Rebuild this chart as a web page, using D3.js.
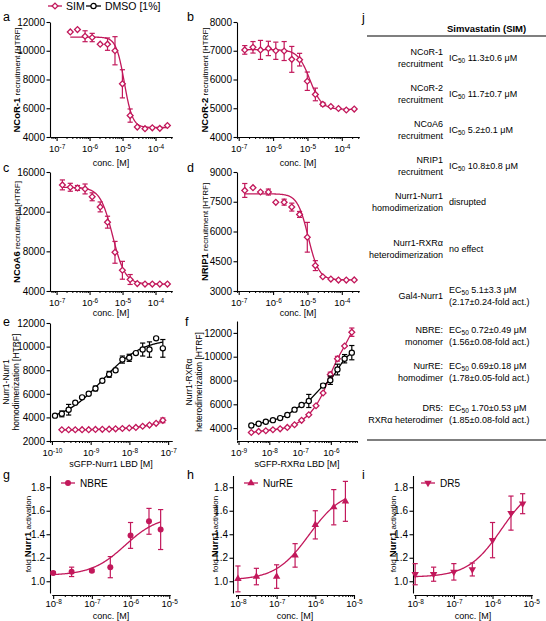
<!DOCTYPE html>
<html><head><meta charset="utf-8">
<script src="https://cdn.jsdelivr.net/npm/d3@7"></script>
<style>
body{margin:0;background:#fff}
svg{display:block}
text{font-family:"Liberation Sans",Arial,Helvetica,sans-serif}
</style>
</head><body>
<svg id="chart" width="546" height="621"></svg>
<script>
// ---------------- DATA ----------------
const concAD = [1.5e-7,2.6e-7,4.3e-7,7.3e-7,1.2e-6,2.1e-6,3.5e-6,5.9e-6,9.9e-6,1.7e-5,2.8e-5,4.8e-5,8.0e-5,1.35e-4,2.3e-4];
const ncor1    = [null,11310,11470,11010,10920,10460,10460,10000,7700,5490,4690,4580,4640,4600,4800];
const ncor1Err = [0,0,0,380,290,0,430,980,980,460,0,0,0,0,0];
const ncor2    = [7030,7120,7030,7080,7000,6990,6700,6690,5940,5480,5140,5060,4990,4940,4970];
const ncor2Err = [150,200,330,250,300,330,450,220,320,220,60,0,0,0,0];
const ncoa6    = [14700,14460,14390,14290,13500,12480,10940,7900,6090,5160,4750,4700,4700,4700,4700];
const ncoa6Err = [500,400,250,500,400,500,600,1100,900,500,0,0,0,0,0];
const nrip1    = [8070,8210,7990,7990,7470,7480,7230,6860,5710,4280,3720,3600,3550,3550,3560];
const nrip1Err = [350,0,0,150,0,150,200,150,750,250,0,0,0,0,0];
// 4PL fit parameters [top, bottom, IC50/EC50 (M), hill slope] (negative slope = decreasing)
const fitNcor1 = [10950,4660,1.13e-5,-3.5];
const fitNcor2 = [7040,4960,1.17e-5,-2.5];
const fitNcoa6 = [14450,4700,5.0e-6,-2.3];
const fitNrip1 = [7900,3560,1.05e-5,-2.8];

const concE     = [1.2e-10,1.8e-10,2.7e-10,4.0e-10,6.0e-10,8.9e-10,1.33e-9,2.0e-9,3.0e-9,4.4e-9,6.6e-9,9.9e-9,1.47e-8,2.2e-8,3.3e-8,4.9e-8,7.3e-8];
const homoDMSO    = [4150,4300,4650,5250,5700,6000,6450,7100,7650,8000,8900,9050,9450,9750,9750,10700,9850];
const homoDMSOErr = [0,250,450,0,0,0,200,0,250,0,300,300,0,550,650,0,750];
const homoSIM     = [null,2950,2950,2950,2960,2960,2980,2990,3000,3030,3060,3100,3150,3250,3350,3500,3750];
const homoSIMErr  = [0,0,0,0,0,0,0,0,0,0,0,0,0,0,0,0,200];
const fitHomoDMSO = [10700,3600,2.0e-9,0.85];

const concF      = [2.6e-9,4.5e-9,7.7e-9,1.31e-8,2.25e-8,3.85e-8,6.6e-8,1.12e-7,1.92e-7,3.3e-7,5.6e-7,9.6e-7,1.64e-6,2.8e-6,4.8e-6];
const heteroDMSO    = [4220,4370,4530,4670,4840,5100,5550,5940,6280,null,7570,8020,8920,9830,10340];
const heteroDMSOErr = [0,0,0,0,0,0,0,0,550,0,150,350,450,350,600];
const heteroSIM     = [3630,3720,3780,3860,3940,4060,4280,4650,5120,5880,6950,8500,9830,10900,12060];
const heteroSIMErr  = [0,0,0,0,0,0,0,0,0,0,0,200,200,0,350];

const concGHI = [1e-8,3e-8,1e-7,3e-7,1e-6,3e-6,6e-6];
const nbre     = [1.07,1.08,1.09,1.12,1.39,1.51,1.44];
const nbreErr  = [0.01,0.04,0.01,0.09,0.11,0.11,0.17];
const nurre    = [1.02,1.04,1.04,1.22,1.48,1.63,1.68];
const nurreErr = [0.11,0.07,0.10,0.10,0.12,0.15,0.17];
const dr5      = [1.06,1.06,1.08,1.10,1.35,1.58,1.66];
const dr5Err   = [0.09,0.06,0.07,0.055,0.15,0.145,0.085];
const fitNbre  = [1.56,1.05,0.72e-6,1];
const fitNurre = [1.78,1.01,0.69e-6,1];
const fitDr5   = [1.85,1.035,1.70e-6,1];

const yTicksA = [4000,6000,8000,10000,12000];
const yTicksB = [4000,5000,6000,7000,8000];
const yTicksC = [4000,8000,12000,16000];
const yTicksD = [3000,4500,6000,7500,9000];
const yTicksE = [2000,4000,6000,8000,10000,12000];
const yTicksF = [4000,6000,8000,10000,12000];
const yTicksG = [1.0,1.2,1.4,1.6,1.8];

const seriesNames = ["SIM","DMSO [1%]"];
const tableHeader = "Simvastatin (SIM)";
const tableLabels = [["NCoR-1","recruitment"],["NCoR-2","recruitment"],["NCoA6","recruitment"],["NRIP1","recruitment"],
  ["Nurr1-Nurr1","homodimerization"],["Nurr1-RXRα","heterodimerization"],["Gal4-Nurr1"],["NBRE:","monomer"],
  ["NurRE:","homodimer"],["DR5:","RXRα heterodimer"]];
const tableValues = [["IC|50| 11.3±0.6 μM"],["IC|50| 11.7±0.7 μM"],["IC|50| 5.2±0.1 μM"],["IC|50| 10.8±0.8 μM"],
  ["disrupted"],["no effect"],["EC|50| 5.1±3.3 μM","(2.17±0.24-fold act.)"],["EC|50| 0.72±0.49 μM","(1.56±0.08-fold act.)"],
  ["EC|50| 0.69±0.18 μM","(1.78±0.05-fold act.)"],["EC|50| 1.70±0.53 μM","(1.85±0.08-fold act.)"]];

// ---------------- DRAWING ----------------
const PINK = "#C2185B";
const FONT = '"Liberation Sans", Arial, Helvetica, sans-serif';
const svg = d3.select("#chart");

function fourPL(p, c){ return p[1] + (p[0]-p[1])/(1+Math.pow(p[2]/c, p[3])); }

function panel(o){
  const x = d3.scaleLog().domain(o.xDom).range(o.xr);
  const y = d3.scaleLinear().domain(o.yDom).range(o.yr);
  const g = svg.append("g");
  const ya = g.append("g").attr("transform",`translate(${o.yx},0)`)
    .call(d3.axisLeft(y).tickValues(o.yTicks).tickSize(3.5).tickSizeOuter(0).tickPadding(1.5).tickFormat(o.yFmt));
  ya.attr("font-family",FONT).attr("font-size",10);
  ya.selectAll("path,line").attr("stroke-width",1.1);
  const l0 = Math.log10(o.xDom[0]), l1 = Math.log10(o.xDom[1]);
  const e0 = Math.ceil(l0-1e-9), e1 = Math.floor(l1+1e-9);
  const majors = d3.range(e0, e1+1).map(e=>Math.pow(10,e));
  const minors = [];
  for(let e=Math.floor(l0); e<=e1; e++) for(let k=2;k<=9;k++){ const v=k*Math.pow(10,e); if(v>=o.xDom[0] && v<=o.xDom[1]) minors.push(v); }
  const xa = g.append("g").attr("transform",`translate(0,${o.xy})`)
    .call(d3.axisBottom(x).tickValues(majors).tickSize(4).tickSizeOuter(0).tickPadding(o.xPad));
  xa.attr("font-family",FONT).attr("font-size",9.5);
  xa.selectAll("path,line").attr("stroke-width",1.1);
  xa.selectAll(".tick text").each(function(d){
    const t = d3.select(this); t.text(null);
    t.append("tspan").text("10");
    t.append("tspan").attr("dy","-0.45em").attr("font-size","6.5px").text(String(Math.round(Math.log10(d))));
  });
  const xm = g.append("g").attr("transform",`translate(0,${o.xy})`)
    .call(d3.axisBottom(x).tickValues(minors).tickSize(2).tickSizeOuter(0).tickFormat(""));
  xm.selectAll("path,line").attr("stroke-width",1);
  g.append("text").attr("x",(o.xr[0]+o.xr[1])/2).attr("y",o.xTitleY).attr("text-anchor","middle")
    .attr("font-size",9).text(o.xTitle);
  return {x,y,g};
}

function yTitle(x, yc, parts){
  const t = svg.append("text").attr("transform",`translate(${x},${yc}) rotate(-90)`)
    .attr("text-anchor","middle").attr("dy","0.35em");
  parts.forEach(p=>{ t.append("tspan").attr("font-weight",p[1]?"bold":"normal").attr("font-size",p[1]?9.5:8).text(p[0]); });
}
function yTitle2(x1, x2, yc, l1, l2){
  [[x1,l1],[x2,l2]].forEach(([xx,s])=>{
    svg.append("text").attr("transform",`translate(${xx},${yc}) rotate(-90)`)
      .attr("text-anchor","middle").attr("dy","0.35em").attr("font-size",8.5).text(s);
  });
}

function drawMarker(g, cx, cy, type, color){
  if(type==="diamond"){
    g.append("path").attr("d",d3.symbol(d3.symbolSquare,17)()).attr("transform",`translate(${cx},${cy}) rotate(45)`)
      .attr("fill","#fff").attr("stroke",color).attr("stroke-width",1.3);
  } else if(type==="circleOpen"){
    g.append("circle").attr("cx",cx).attr("cy",cy).attr("r",2.6).attr("fill","#fff").attr("stroke",color).attr("stroke-width",1.2);
  } else if(type==="circle"){
    g.append("circle").attr("cx",cx).attr("cy",cy).attr("r",3).attr("fill",color);
  } else if(type==="triUp"){
    g.append("path").attr("d",d3.symbol(d3.symbolTriangle,24)()).attr("transform",`translate(${cx},${cy})`).attr("fill",color);
  } else if(type==="triDown"){
    g.append("path").attr("d",d3.symbol(d3.symbolTriangle,24)()).attr("transform",`translate(${cx},${cy}) rotate(180)`).attr("fill",color);
  }
}

function drawSeries(P, conc, vals, errs, color, type){
  const pts = conc.map((c,i)=>({c, v:vals[i], e:errs?errs[i]:0})).filter(d=>d.v!=null);
  const eg = P.g.append("g").attr("stroke",color).attr("stroke-width",1.2);
  pts.filter(d=>d.e>0).forEach(d=>{
    const cx=P.x(d.c), yt=P.y(d.v+d.e), yb=P.y(d.v-d.e);
    eg.append("line").attr("x1",cx).attr("x2",cx).attr("y1",yt).attr("y2",yb);
    eg.append("line").attr("x1",cx-2.6).attr("x2",cx+2.6).attr("y1",yt).attr("y2",yt);
    eg.append("line").attr("x1",cx-2.6).attr("x2",cx+2.6).attr("y1",yb).attr("y2",yb);
  });
  const mg = P.g.append("g");
  pts.forEach(d=>drawMarker(mg, P.x(d.c), P.y(d.v), type, color));
}

function drawFit(P, p, c0, c1, color){
  const l0=Math.log10(c0), l1=Math.log10(c1);
  const xs = d3.range(0,161).map(i=>Math.pow(10, l0+(l1-l0)*i/160));
  P.g.append("path").datum(xs).attr("fill","none").attr("stroke",color).attr("stroke-width",1.3)
    .attr("d", d3.line().x(c=>P.x(c)).y(c=>P.y(fourPL(p,c))));
}
function drawConnect(P, conc, vals, color){
  const pts = conc.map((c,i)=>[c,vals[i]]).filter(d=>d[1]!=null);
  P.g.append("path").datum(pts).attr("fill","none").attr("stroke",color).attr("stroke-width",1.3)
    .attr("d", d3.line().x(d=>P.x(d[0])).y(d=>P.y(d[1])));
}
function letter(x,y,s){ svg.append("text").attr("x",x).attr("y",y).attr("font-size",12.5).text(s); }

const fmtInt = d3.format("d"), fmt1 = d3.format(".1f");

// Panel a
const Pa = panel({xDom:[Math.pow(10,-7.2),Math.pow(10,-3.5)], xr:[50,172], yDom:[4000,12000], yr:[137,22], yx:50, xy:137, xPad:4,
  yTicks:yTicksA, yFmt:fmtInt, xTitle:"conc. [M]", xTitleY:166});
drawFit(Pa, fitNcor1, concAD[1], concAD[14], PINK);
drawSeries(Pa, concAD, ncor1, ncor1Err, PINK, "diamond");
yTitle(14, 80, [["NCoR-1",true],[" recruitment [HTRF]",false]]);
// Panel b
const Pb = panel({xDom:[Math.pow(10,-7.05),Math.pow(10,-3.5)], xr:[237,359], yDom:[4000,8000], yr:[137,22], yx:237, xy:137, xPad:4,
  yTicks:yTicksB, yFmt:fmtInt, xTitle:"conc. [M]", xTitleY:166});
drawFit(Pb, fitNcor2, concAD[0], concAD[14], PINK);
drawSeries(Pb, concAD, ncor2, ncor2Err, PINK, "diamond");
yTitle(202, 80, [["NCoR-2",true],[" recruitment [HTRF]",false]]);
// Panel c
const Pc = panel({xDom:[Math.pow(10,-7.2),Math.pow(10,-3.5)], xr:[50,172], yDom:[4000,16000], yr:[291,172], yx:50, xy:291, xPad:4,
  yTicks:yTicksC, yFmt:fmtInt, xTitle:"conc. [M]", xTitleY:316});
drawFit(Pc, fitNcoa6, concAD[0], concAD[14], PINK);
drawSeries(Pc, concAD, ncoa6, ncoa6Err, PINK, "diamond");
yTitle(14, 232, [["NCoA6",true],[" recruitment [HTRF]",false]]);
// Panel d
const Pd = panel({xDom:[Math.pow(10,-7.05),Math.pow(10,-3.5)], xr:[237,359], yDom:[3000,9000], yr:[291,172], yx:237, xy:291, xPad:4,
  yTicks:yTicksD, yFmt:fmtInt, xTitle:"conc. [M]", xTitleY:316});
drawFit(Pd, fitNrip1, concAD[0], concAD[14], PINK);
drawSeries(Pd, concAD, nrip1, nrip1Err, PINK, "diamond");
yTitle(202, 232, [["NRIP1",true],[" recruitment [HTRF]",false]]);
// Panel e
const Pe = panel({xDom:[Math.pow(10,-10.05),Math.pow(10,-6.9)], xr:[50,172], yDom:[2000,12000], yr:[441,323], yx:50, xy:441, xPad:4,
  yTicks:yTicksE, yFmt:fmtInt, xTitle:"sGFP-Nurr1 LBD [M]", xTitleY:467});
drawConnect(Pe, concE, homoSIM, PINK);
drawFit(Pe, fitHomoDMSO, concE[0], concE[16], "#000");
drawSeries(Pe, concE, homoSIM, homoSIMErr, PINK, "diamond");
drawSeries(Pe, concE, homoDMSO, homoDMSOErr, "#000", "circleOpen");
yTitle2(6, 16, 382, "Nurr1-Nurr1", "homodimerization [HTRF]");
// Panel f
const Pf = panel({xDom:[Math.pow(10,-9.05),Math.pow(10,-5.15)], xr:[237,357], yDom:[3000,13000], yr:[440,321], yx:237, xy:441, xPad:4,
  yTicks:yTicksF, yFmt:fmtInt, xTitle:"sGFP-RXRα LBD [M]", xTitleY:467});
drawConnect(Pf, concF, heteroSIM, PINK);
drawConnect(Pf, concF, heteroDMSO, "#000");
drawSeries(Pf, concF, heteroSIM, heteroSIMErr, PINK, "diamond");
drawSeries(Pf, concF, heteroDMSO, heteroDMSOErr, "#000", "circleOpen");
yTitle2(189, 199, 382, "Nurr1-RXRα", "heterodimerization [HTRF]");
// Panels g, h, i
const ghi = [
  {yx:50, xr:[52,170], dom:[Math.pow(10,-8.03),Math.pow(10,-4.98)], vals:nbre, err:nbreErr, fit:fitNbre, type:"circle", name:"NBRE", tx:25, lx:68},
  {yx:233, xr:[236,354], dom:[Math.pow(10,-8.05),Math.pow(10,-5.0)], vals:nurre, err:nurreErr, fit:fitNurre, type:"triUp", name:"NurRE", tx:212, lx:251},
  {yx:413, xr:[414,532], dom:[Math.pow(10,-8.03),Math.pow(10,-4.98)], vals:dr5, err:dr5Err, fit:fitDr5, type:"triDown", name:"DR5", tx:390, lx:428}
];
ghi.forEach(s=>{
  const P = panel({xDom:s.dom, xr:s.xr, yDom:[0.9,1.9], yr:[593,475.5], yx:s.yx, xy:595, xPad:1.5,
    yTicks:yTicksG, yFmt:fmt1, xTitle:"conc. [M]", xTitleY:619});
  drawFit(P, s.fit, concGHI[0], concGHI[6], PINK);
  drawSeries(P, concGHI, s.vals, s.err, PINK, s.type);
  yTitle(s.tx, 534, [["fold ",false],["Nurr1",true],[" activation",false]]);
  svg.append("line").attr("x1",s.lx-7).attr("x2",s.lx+7).attr("y1",483).attr("y2",483).attr("stroke",PINK).attr("stroke-width",1.3);
  drawMarker(svg, s.lx, 483, s.type, PINK);
  svg.append("text").attr("x",s.lx+12).attr("y",483).attr("dy","0.35em").attr("font-size",10).text(s.name);
});

// Top legend
svg.append("line").attr("x1",48).attr("x2",62).attr("y1",6).attr("y2",6).attr("stroke",PINK).attr("stroke-width",1.3);
drawMarker(svg,55,6,"diamond",PINK);
svg.append("text").attr("x",66).attr("y",6).attr("dy","0.36em").attr("font-size",10.5).text(seriesNames[0]);
svg.append("line").attr("x1",86).attr("x2",101).attr("y1",6).attr("y2",6).attr("stroke","#000").attr("stroke-width",1.3);
drawMarker(svg,93.5,6,"circleOpen","#000");
svg.append("text").attr("x",105).attr("y",6).attr("dy","0.36em").attr("font-size",10.5).text(seriesNames[1]);

// Panel letters
letter(3,21,"a"); letter(187,21,"b"); letter(3,172,"c"); letter(187,172,"d");
letter(3,326,"e"); letter(185,326,"f"); letter(3,479,"g"); letter(187,479,"h"); letter(362,479,"i"); letter(362,22,"j");

// Table j
const tg = svg.append("g").attr("font-size",9);
tg.append("text").attr("x",447).attr("y",29).attr("dy","0.35em").attr("font-weight","bold").attr("font-size",9.5).text(tableHeader);
tg.append("line").attr("x1",367).attr("x2",546).attr("y1",36).attr("y2",36).attr("stroke","#000").attr("stroke-width",1.2);
tg.append("line").attr("x1",367).attr("x2",546).attr("y1",440).attr("y2",440).attr("stroke","#000").attr("stroke-width",1.2);
const rowCenters = [58,94,130,166,202,249,296,336,372,414];
function linesY(c,n){ return n===1?[c]:[c-6,c+6]; }
tableLabels.forEach((lab,i)=>{
  const ys = linesY(rowCenters[i], lab.length);
  lab.forEach((s,k)=> tg.append("text").attr("x",443).attr("y",ys[k]).attr("dy","0.35em").attr("text-anchor","end").text(s));
  const vals = tableValues[i];
  const vy = linesY(rowCenters[i], vals.length);
  vals.forEach((s,k)=>{
    const t = tg.append("text").attr("x",449).attr("y",vy[k]).attr("dy","0.35em");
    s.split("|").forEach((part,j)=>{
      if(j%2===1) t.append("tspan").attr("font-size",6.5).attr("dy",1.5).text(part);
      else t.append("tspan").attr("dy", j>0?-1.5:null).text(part);
    });
  });
});
</script>
</body></html>
